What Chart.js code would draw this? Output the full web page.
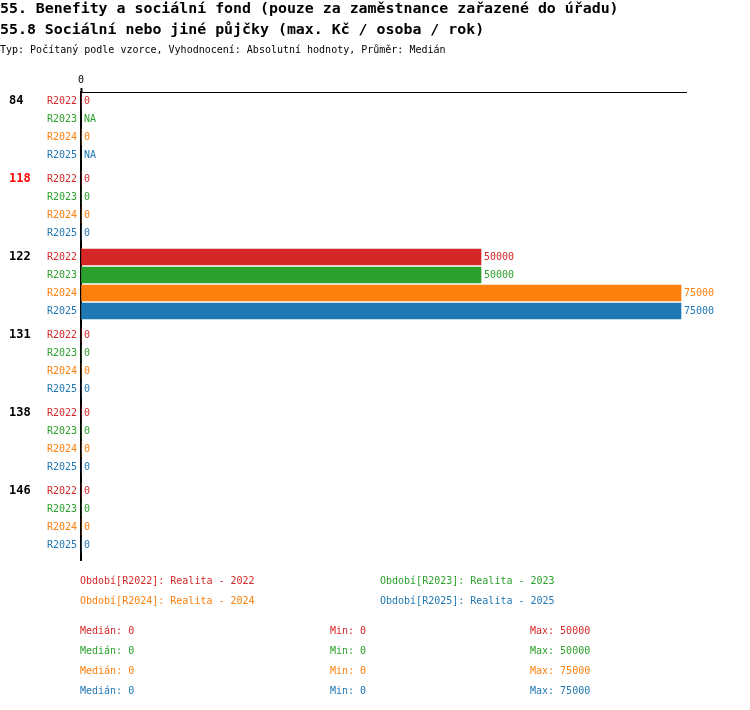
<!DOCTYPE html>
<html>
<head>
<meta charset="utf-8">
<script src="https://cdn.jsdelivr.net/npm/chart.js@4"></script>
<style>
  body { margin: 0; background: #fff; }
  #wrap { position: relative; width: 750px; height: 710px; font-family: 'DejaVu Sans Mono', monospace; }
  #wrap canvas { position: absolute; left: 0; top: 0; }
  .t { position: absolute; white-space: pre; }
  .h1 { font-size: 14.9px; font-weight: bold; line-height: 18px; }
  .sub { font-size: 10px; line-height: 12px; }
  .s { font-size: 10px; line-height: 12px; }
</style>
</head>
<body>
<div id="wrap">
  <canvas id="chart" width="750" height="710"></canvas>
  <div class="t h1" style="left:0px;top:-1px">55. Benefity a sociální fond (pouze za zaměstnance zařazené do úřadu)</div>
  <div class="t h1" style="left:0px;top:20px">55.8 Sociální nebo jiné půjčky (max. Kč / osoba / rok)</div>
  <div class="t sub" style="left:0px;top:44px">Typ: Počítaný podle vzorce, Vyhodnocení: Absolutní hodnoty, Průměr: Medián</div>
  <div id="foot"></div>
</div>
<script>
const groups = ['84', '118', '122', '131', '138', '146'];
const highlighted = ['118'];
const periods = ['R2022', 'R2023', 'R2024', 'R2025'];
const periodNames = ['Realita - 2022', 'Realita - 2023', 'Realita - 2024', 'Realita - 2025'];
const colors = ['#d62728', '#2ca02c', '#ff7f0e', '#1f77b4'];

// values per period, one per group (null = NA)
const r2022 = [0, 0, 50000, 0, 0, 0];
const r2023 = [null, 0, 50000, 0, 0, 0];
const r2024 = [0, 0, 75000, 0, 0, 0];
const r2025 = [null, 0, 75000, 0, 0, 0];
const series = [r2022, r2023, r2024, r2025];

const medians = [0, 0, 0, 0];
const mins = [0, 0, 0, 0];
const maxs = [50000, 50000, 75000, 75000];

const xMax = 75625;

// row slot of period p in group g (rows of a group, then a third of a row as gap)
const groupStride = 4 + 1 / 3;
const rowPos = (g, p) => g * groupStride + p;
const rowTicks = [];
groups.forEach((g, gi) => periods.forEach((p, pi) => rowTicks.push(rowPos(gi, pi))));

const datasets = series.map((vals, pi) => ({
    label: periods[pi],
    data: vals.map((v, gi) => ({ x: v, y: rowPos(gi, pi) })),
    backgroundColor: colors[pi],
    barThickness: 16,
    grouped: false
}));

const MONO = "'DejaVu Sans Mono', monospace";

const labelsPlugin = {
    id: 'rowLabels',
    afterDatasetsDraw(chart) {
        const { ctx, scales: { x, y } } = chart;
        ctx.save();
        ctx.textBaseline = 'middle';
        ctx.textAlign = 'left';
        ctx.font = '10px ' + MONO;
        series.forEach((vals, pi) => {
            ctx.fillStyle = colors[pi];
            vals.forEach((v, gi) => {
                const px = x.getPixelForValue(v === null ? 0 : v) + 3;
                const py = y.getPixelForValue(rowPos(gi, pi));
                ctx.fillText(v === null ? 'NA' : String(v), px, py);
            });
        });
        ctx.font = 'bold 12px ' + MONO;
        groups.forEach((g, gi) => {
            ctx.fillStyle = highlighted.includes(g) ? '#ff0000' : '#000';
            ctx.fillText(g, 9, y.getPixelForValue(rowPos(gi, 0)));
        });
        ctx.restore();
    }
};

new Chart(document.getElementById('chart'), {
    type: 'bar',
    data: { datasets: datasets },
    plugins: [labelsPlugin],
    options: {
        indexAxis: 'y',
        responsive: false,
        devicePixelRatio: 1,
        animation: false,
        layout: { padding: { top: 0, left: 0, right: 64, bottom: 150 } },
        plugins: { legend: { display: false }, tooltip: { enabled: false } },
        scales: {
            x: {
                type: 'linear',
                position: 'top',
                min: 0,
                max: xMax,
                afterBuildTicks: (s) => { s.ticks = [{ value: 0 }]; },
                afterFit: (s) => { s.height = 92; },
                grid: { display: true, drawOnChartArea: false, drawTicks: true, tickLength: 4, tickWidth: 2, tickColor: '#000' },
                border: { display: true, color: '#000', width: 1 },
                ticks: { color: '#000', padding: 2, font: { family: MONO, size: 10 } }
            },
            y: {
                type: 'linear',
                reverse: true,
                offset: false,
                min: -0.5,
                max: rowPos(groups.length - 1, periods.length - 1) + 0.5 + 1 / 3,
                afterBuildTicks: (s) => { s.ticks = rowTicks.map(v => ({ value: v })); },
                afterFit: (s) => { s.width = 81; },
                grid: { display: false, drawTicks: false, offset: false },
                border: { display: true, color: '#000', width: 2 },
                ticks: {
                    autoSkip: false,
                    padding: 4,
                    font: { family: MONO, size: 10 },
                    color: (c) => colors[c.index % periods.length],
                    callback: (v, i) => periods[i % periods.length]
                }
            }
        }
    }
});

// legend and statistics below the chart
const foot = document.getElementById('foot');
const put = (txt, left, top, color) => {
    const d = document.createElement('div');
    d.className = 't s';
    d.style.left = left + 'px';
    d.style.top = top + 'px';
    d.style.color = color;
    d.textContent = txt;
    foot.appendChild(d);
};
periods.forEach((p, i) => {
    put('Období[' + p + ']: ' + periodNames[i], i % 2 ? 380 : 80, 575 + Math.floor(i / 2) * 20, colors[i]);
});
periods.forEach((p, i) => {
    const top = 625 + i * 20;
    put('Medián: ' + medians[i], 80, top, colors[i]);
    put('Min: ' + mins[i], 330, top, colors[i]);
    put('Max: ' + maxs[i], 530, top, colors[i]);
});
</script>
</body>
</html>
